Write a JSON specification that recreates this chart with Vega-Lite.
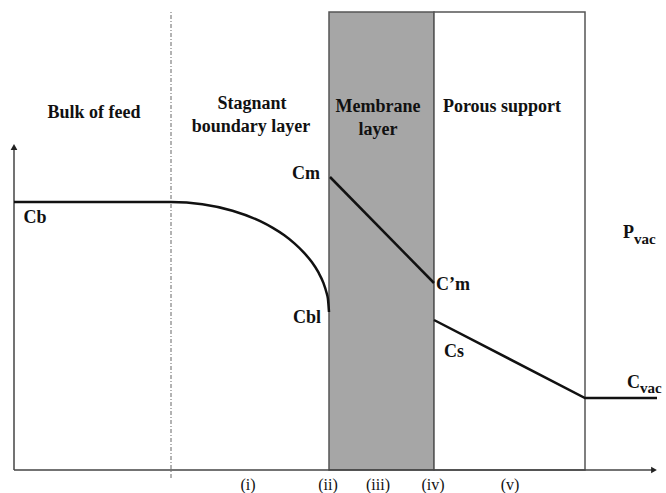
{
  "$schema": "https://vega.github.io/schema/vega-lite/v6.json",
  "width": 666,
  "height": 493,
  "padding": 0,
  "autosize": {"type": "fit", "contains": "padding"},
  "background": "white",
  "config": {"view": {"stroke": null}},
  "datasets": {
    "regions": [
      {"region": "membrane", "x": 329, "x2": 434, "y": 23, "y2": 481},
      {"region": "support", "x": 434, "x2": 585, "y": 23, "y2": 481}
    ],
    "feedProfile": [
      {"i": 0, "x": 14, "y": 291},
      {"i": 1, "x": 171, "y": 291},
      {"i": 2, "x": 202.4, "y": 288.8},
      {"i": 3, "x": 232.5, "y": 282.3},
      {"i": 4, "x": 260.2, "y": 271.8},
      {"i": 5, "x": 272.8, "y": 265.1},
      {"i": 6, "x": 284.3, "y": 257.7},
      {"i": 7, "x": 294.7, "y": 249.4},
      {"i": 8, "x": 303.9, "y": 240.4},
      {"i": 9, "x": 311.8, "y": 230.9},
      {"i": 10, "x": 318.3, "y": 220.8},
      {"i": 11, "x": 323.3, "y": 210.4},
      {"i": 12, "x": 326.7, "y": 199.7},
      {"i": 13, "x": 327.9, "y": 194.3},
      {"i": 14, "x": 329, "y": 181}
    ],
    "profile": [
      {"seg": "membrane", "i": 0, "x": 330, "y": 316},
      {"seg": "membrane", "i": 1, "x": 434, "y": 210},
      {"seg": "support", "i": 0, "x": 434, "y": 173},
      {"seg": "support", "i": 1, "x": 585, "y": 95},
      {"seg": "support", "i": 2, "x": 657, "y": 95}
    ],
    "labels": [
      {"label": "Bulk of feed", "x": 94, "y": 380},
      {"label": "Stagnant", "x": 252, "y": 389},
      {"label": "boundary layer", "x": 251, "y": 366},
      {"label": "Membrane", "x": 378, "y": 386},
      {"label": "layer", "x": 378, "y": 363},
      {"label": "Porous support", "x": 502, "y": 386},
      {"label": "Cm", "x": 306, "y": 319},
      {"label": "Cb", "x": 35, "y": 275},
      {"label": "Cbl", "x": 307, "y": 175},
      {"label": "C’m", "x": 453, "y": 208},
      {"label": "Cs", "x": 454, "y": 141}
    ],
    "mainSym": [
      {"label": "P", "x": 634, "y": 260},
      {"label": "C", "x": 640, "y": 110}
    ],
    "subSym": [
      {"label": "vac", "x": 634, "y": 254},
      {"label": "vac", "x": 640, "y": 105}
    ],
    "zones": [
      {"label": "(i)", "x": 248, "y": 8},
      {"label": "(ii)", "x": 328, "y": 8},
      {"label": "(iii)", "x": 378, "y": 8},
      {"label": "(iv)", "x": 433, "y": 8},
      {"label": "(v)", "x": 510, "y": 8}
    ]
  },
  "layer": [
    {
      "data": {"name": "regions"},
      "mark": {"type": "rect", "stroke": "#555555", "strokeWidth": 1.5},
      "encoding": {
        "x": {"field": "x", "type": "quantitative", "scale": {"domain": [0, 666], "nice": false, "zero": false}, "axis": null},
        "x2": {"field": "x2"},
        "y": {"field": "y", "type": "quantitative", "scale": {"domain": [0, 493], "nice": false, "zero": false}, "axis": null},
        "y2": {"field": "y2"},
        "color": {"field": "region", "type": "nominal", "scale": {"domain": ["membrane", "support"], "range": ["#a6a6a6", "#ffffff"]}, "legend": null}
      }
    },
    {
      "data": {"values": [{"x": 171, "y": 15, "y2": 483}]},
      "mark": {"type": "rule", "color": "#666666", "strokeWidth": 1, "strokeDash": [4, 2, 1, 2]},
      "encoding": {
        "x": {"field": "x", "type": "quantitative"},
        "y": {"field": "y", "type": "quantitative"},
        "y2": {"field": "y2"}
      }
    },
    {
      "data": {"values": [{"x": 14, "y": 23, "x2": 14, "y2": 345}, {"x": 14, "y": 23, "x2": 652, "y2": 23}]},
      "mark": {"type": "rule", "color": "#444444", "strokeWidth": 1.5},
      "encoding": {
        "x": {"field": "x", "type": "quantitative"},
        "x2": {"field": "x2"},
        "y": {"field": "y", "type": "quantitative"},
        "y2": {"field": "y2"}
      }
    },
    {
      "data": {"values": [{"x": 14, "y": 346, "dir": "up"}, {"x": 654, "y": 23, "dir": "right"}]},
      "mark": {"type": "point", "filled": true, "size": 45, "color": "#222222", "opacity": 1},
      "encoding": {
        "x": {"field": "x", "type": "quantitative"},
        "y": {"field": "y", "type": "quantitative"},
        "shape": {"field": "dir", "type": "nominal", "scale": {"domain": ["up", "right"], "range": ["triangle-up", "triangle-right"]}, "legend": null}
      }
    },
    {
      "data": {"name": "feedProfile"},
      "mark": {"type": "line", "color": "#111111", "strokeWidth": 2.5, "interpolate": "monotone"},
      "encoding": {
        "x": {"field": "x", "type": "quantitative"},
        "y": {"field": "y", "type": "quantitative"},
        "order": {"field": "i", "type": "quantitative"}
      }
    },
    {
      "data": {"name": "profile"},
      "mark": {"type": "line", "color": "#111111", "strokeWidth": 2.5},
      "encoding": {
        "x": {"field": "x", "type": "quantitative"},
        "y": {"field": "y", "type": "quantitative"},
        "detail": {"field": "seg", "type": "nominal"},
        "order": {"field": "i", "type": "quantitative"}
      }
    },
    {
      "data": {"name": "labels"},
      "mark": {"type": "text", "font": "Times New Roman, Liberation Serif, DejaVu Serif, serif", "fontWeight": "bold", "fontSize": 18, "align": "center", "baseline": "middle", "color": "#111111"},
      "encoding": {
        "x": {"field": "x", "type": "quantitative"},
        "y": {"field": "y", "type": "quantitative"},
        "text": {"field": "label"}
      }
    },
    {
      "data": {"name": "mainSym"},
      "mark": {"type": "text", "font": "Times New Roman, Liberation Serif, DejaVu Serif, serif", "fontWeight": "bold", "fontSize": 18, "align": "right", "baseline": "middle", "color": "#111111"},
      "encoding": {
        "x": {"field": "x", "type": "quantitative"},
        "y": {"field": "y", "type": "quantitative"},
        "text": {"field": "label"}
      }
    },
    {
      "data": {"name": "subSym"},
      "mark": {"type": "text", "font": "Times New Roman, Liberation Serif, DejaVu Serif, serif", "fontWeight": "bold", "fontSize": 15, "align": "left", "baseline": "middle", "color": "#111111"},
      "encoding": {
        "x": {"field": "x", "type": "quantitative"},
        "y": {"field": "y", "type": "quantitative"},
        "text": {"field": "label"}
      }
    },
    {
      "data": {"name": "zones"},
      "mark": {"type": "text", "font": "Times New Roman, Liberation Serif, DejaVu Serif, serif", "fontSize": 16, "align": "center", "baseline": "middle", "color": "#111111"},
      "encoding": {
        "x": {"field": "x", "type": "quantitative"},
        "y": {"field": "y", "type": "quantitative"},
        "text": {"field": "label"}
      }
    }
  ]
}
